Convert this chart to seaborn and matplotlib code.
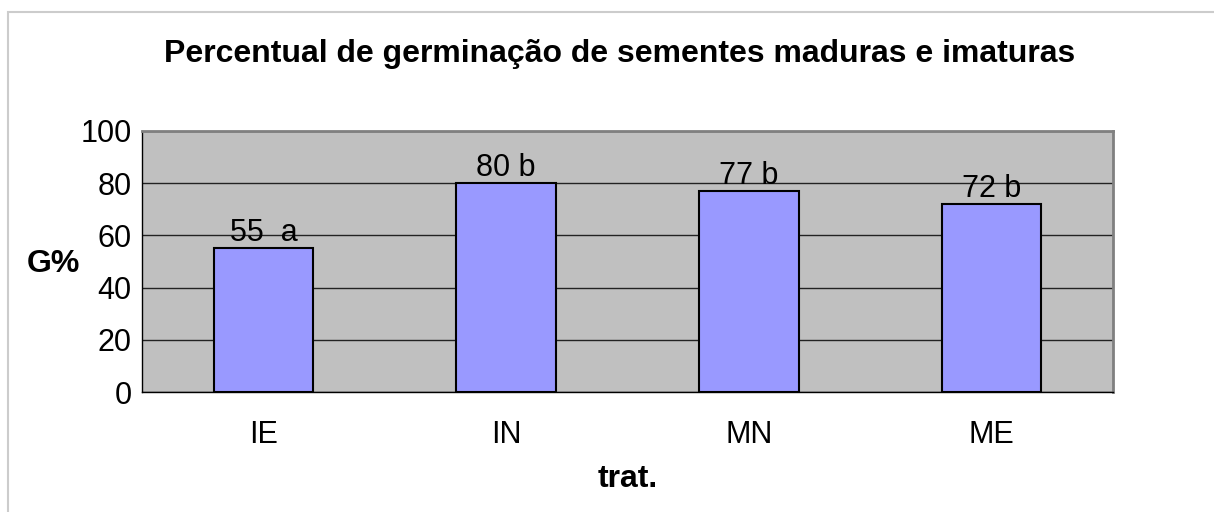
import matplotlib

matplotlib.use("Agg")
import matplotlib.pyplot as plt
import pandas as pd
import seaborn as sns
from matplotlib.patches import Rectangle

sns.set_theme(style="white")
plt.rcParams["font.family"] = ["Liberation Sans", "DejaVu Sans"]
plt.rcParams.update({"text.color": "black", "axes.labelcolor": "black",
                     "xtick.color": "black", "ytick.color": "black"})

# data
tratamentos = ["IE", "IN", "MN", "ME"]
germinacao = [55, 80, 77, 72]
rotulos = ["55  a", "80 b", "77 b", "72 b"]

df = pd.DataFrame({"trat": tratamentos, "G": germinacao})

fig = plt.figure(figsize=(12.14, 5.12), dpi=100)
ax = fig.add_axes([142 / 1214, 1 - 392 / 512, (1113 - 142) / 1214, (392 - 131) / 512])

# outer chart border (Excel-like frame)
fig.patches.append(
    Rectangle((8 / 1214, -0.1), 1.2, 1 - 12 / 512 + 0.1, transform=fig.transFigure,
              fill=False, edgecolor="#cccccc", linewidth=1.5, zorder=0)
)

ax.set_facecolor("#c0c0c0")
sns.barplot(data=df, x="trat", y="G", ax=ax, color="#9999ff", width=0.41,
            edgecolor="black", linewidth=1.5, saturation=1, zorder=3)

for i, (v, lab) in enumerate(zip(germinacao, rotulos)):
    ax.annotate(lab, (i, v), xytext=(0, 0), textcoords="offset points",
                ha="center", va="bottom", fontsize=22, color="black", zorder=4)

ax.set_ylim(0, 100)
ax.set_xlim(-0.5, 3.5)
ax.set_yticks(range(0, 101, 20))
ax.yaxis.grid(True, color="#222222", linewidth=1)
ax.set_axisbelow(True)

# x ticks at category boundaries
ax.set_xticks(range(4))
ax.set_xticklabels(tratamentos, fontsize=22)
ax.set_xticks([-0.5, 0.5, 1.5, 2.5, 3.5], minor=True)
ax.tick_params(axis="x", which="major", length=0, pad=20)
ax.tick_params(axis="x", which="minor", length=7, width=1, color="black", direction="out")
ax.tick_params(axis="y", length=6.5, width=1, color="black", direction="out", labelsize=22, pad=1)

for side in ["left", "bottom"]:
    ax.spines[side].set_color("black")
    ax.spines[side].set_linewidth(1)
for side in ["top", "right"]:
    ax.spines[side].set_color("#808080")
    ax.spines[side].set_linewidth(2)

ax.set_xlabel("trat.", fontsize=23, fontweight="bold", labelpad=10)
ax.set_ylabel("G%", fontsize=23, fontweight="bold", rotation=0, ha="center", va="center")
ax.yaxis.set_label_coords(-0.091, 0.49)

fig.text(620 / 1214, 1 - 62 / 512, "Percentual de germinação de sementes maduras e imaturas",
         ha="center", va="baseline", fontsize=23, fontweight="bold")

fig.savefig("out.png", dpi=100)
